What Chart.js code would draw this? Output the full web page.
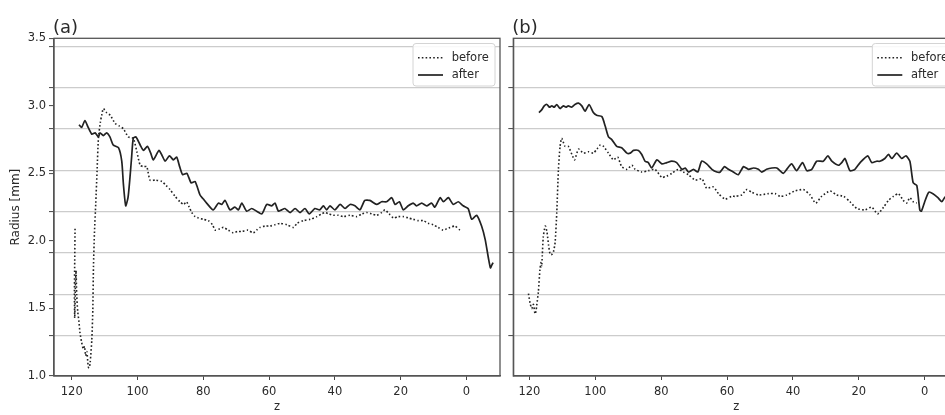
<!DOCTYPE html>
<html><head><meta charset="utf-8">
<script src="https://cdn.jsdelivr.net/npm/chart.js@4.4.1/dist/chart.umd.min.js"></script>
<style>
html,body{margin:0;padding:0;overflow:hidden;background:#fff;width:945px;height:415px;}
#ca{position:absolute;left:0;top:0;}
#cb{position:absolute;left:505px;top:0;}
</style></head><body>
<canvas id="ca" width="505" height="415"></canvas>
<canvas id="cb" width="460" height="415"></canvas>
<script>
// ---- tick labels / levels ----
const xTicks = [120, 100, 80, 60, 40, 20, 0];
const yTicks = [1.0, 1.5, 2.0, 2.5, 3.0, 3.5];
const gridLevels = [1.300, 1.606, 1.912, 2.218, 2.524, 2.830, 3.136, 3.442];
const seriesNames = ['before', 'after'];
const panelTitles = ['(a)', '(b)'];

// ---- panel (a) ----
const zA_before = [119.0,119.1,119.2,119.1,118.9,118.7,118.5,118.2,117.8,117.5,117.0,116.5,116.1,115.8,115.4,115.0,114.7,114.4,113.9,113.6,113.4,113.1,112.7,112.3,111.9,111.3,110.9,110.4,109.4,108.3,106.8,105.5,104.3,102.8,101.3,100.2,99.2,98.2,97.2,96.2,94.5,92.6,91.3,90.1,88.6,87.1,86.0,85.1,84.3,83.5,82.5,81.5,80.0,78.5,77.2,76.4,75.0,73.9,72.4,70.9,69.6,68.3,66.5,64.8,63.8,62.8,61.2,59.7,58.2,56.7,54.6,52.6,51.5,49.6,47.5,45.5,44.0,43.0,41.8,40.5,39.0,37.4,35.4,33.4,31.8,30.3,28.8,27.3,25.8,24.8,23.5,22.2,20.7,19.2,17.7,16.2,14.6,13.1,11.6,10.1,8.6,7.1,6.0,5.0,3.5,2.0];
const rA_before = [2.09,1.85,1.60,1.43,1.65,1.78,1.60,1.48,1.40,1.32,1.25,1.20,1.22,1.15,1.18,1.07,1.06,1.10,1.27,1.49,1.81,2.06,2.28,2.52,2.76,2.88,2.93,2.98,2.95,2.93,2.87,2.85,2.83,2.77,2.76,2.66,2.56,2.55,2.55,2.45,2.45,2.44,2.41,2.38,2.33,2.29,2.27,2.29,2.25,2.21,2.18,2.17,2.16,2.15,2.12,2.08,2.09,2.10,2.08,2.06,2.07,2.07,2.08,2.06,2.08,2.10,2.11,2.11,2.12,2.13,2.12,2.10,2.13,2.15,2.16,2.18,2.20,2.21,2.20,2.19,2.19,2.18,2.19,2.18,2.20,2.21,2.20,2.19,2.21,2.23,2.20,2.17,2.18,2.18,2.17,2.16,2.15,2.15,2.13,2.12,2.10,2.08,2.09,2.10,2.11,2.08];
const zA_after = [117.8,117.0,116.0,115.0,113.9,112.9,111.9,111.4,110.4,109.4,108.4,107.4,105.8,104.8,104.3,103.6,102.9,102.3,101.8,101.3,100.5,99.2,98.2,97.0,96.0,95.2,93.5,92.5,91.6,90.3,89.1,88.1,87.2,86.3,85.0,83.7,82.5,81.0,80.0,79.0,77.0,75.4,74.4,73.4,71.9,70.4,69.3,68.3,66.8,65.3,63.8,62.2,60.7,59.2,58.2,57.2,56.2,55.2,53.6,52.1,50.6,49.1,47.8,46.1,44.6,43.5,42.5,41.5,40.0,38.4,36.9,35.4,33.9,32.4,30.9,29.4,27.3,25.8,24.3,22.7,21.7,20.4,19.2,17.7,16.2,15.2,13.6,12.1,10.6,9.6,8.0,7.0,5.5,4.0,2.5,1.0,-0.5,-1.6,-3.1,-4.6,-5.7,-6.7,-7.3,-7.7,-8.1];
const rA_after = [2.86,2.84,2.89,2.84,2.79,2.80,2.77,2.80,2.78,2.80,2.77,2.71,2.69,2.59,2.42,2.26,2.32,2.47,2.62,2.76,2.77,2.71,2.67,2.70,2.65,2.60,2.67,2.63,2.59,2.63,2.60,2.62,2.55,2.49,2.50,2.43,2.44,2.34,2.31,2.28,2.23,2.28,2.27,2.30,2.23,2.25,2.23,2.28,2.22,2.24,2.22,2.20,2.27,2.26,2.28,2.22,2.23,2.24,2.21,2.24,2.21,2.24,2.20,2.24,2.23,2.26,2.23,2.26,2.23,2.27,2.24,2.27,2.26,2.23,2.30,2.30,2.27,2.29,2.29,2.32,2.27,2.29,2.23,2.26,2.28,2.26,2.28,2.26,2.28,2.25,2.32,2.29,2.32,2.27,2.29,2.26,2.24,2.16,2.19,2.11,2.01,1.87,1.80,1.82,1.84];

// ---- panel (b) ----
const zB_before = [120.3,119.8,119.3,118.8,118.3,118.0,117.8,117.3,116.8,116.5,116.3,116.1,115.8,115.2,114.7,114.2,113.7,113.2,112.7,112.2,111.7,111.2,110.7,110.2,109.2,108.2,107.1,106.3,105.1,103.6,102.1,100.6,99.5,98.5,97.5,96.0,94.5,93.2,92.0,90.4,88.9,87.9,85.9,83.9,81.9,79.8,78.3,76.8,74.8,73.3,71.7,69.7,67.6,66.2,64.2,62.6,60.6,58.6,57.6,55.6,54.0,52.5,50.5,47.4,45.4,43.9,41.9,39.4,36.8,34.8,33.1,31.3,28.7,26.7,24.6,22.7,20.6,18.1,16.1,14.3,12.5,11.0,9.5,8.0,6.5,5.5,4.5,3.5,2.4];
const rB_before = [1.61,1.54,1.50,1.53,1.46,1.48,1.52,1.62,1.79,1.84,1.81,1.89,2.03,2.11,2.07,1.97,1.90,1.90,1.92,1.99,2.21,2.53,2.70,2.76,2.70,2.70,2.64,2.60,2.68,2.65,2.66,2.65,2.68,2.71,2.70,2.65,2.60,2.62,2.55,2.53,2.56,2.53,2.51,2.52,2.53,2.47,2.48,2.50,2.53,2.51,2.49,2.45,2.46,2.39,2.40,2.35,2.31,2.33,2.33,2.34,2.38,2.36,2.34,2.35,2.35,2.33,2.34,2.37,2.38,2.34,2.28,2.33,2.37,2.34,2.33,2.29,2.24,2.23,2.25,2.20,2.25,2.30,2.33,2.35,2.30,2.28,2.32,2.29,2.28];
const zB_after = [117.1,116.3,115.5,114.7,113.9,113.2,112.5,111.7,110.7,109.7,108.9,108.2,107.2,106.2,105.1,104.1,103.1,101.9,100.6,99.6,98.0,97.0,96.0,95.0,93.5,92.0,90.4,89.4,88.4,86.9,85.9,84.9,83.9,82.9,81.3,79.8,78.3,76.8,75.3,73.7,72.7,71.7,70.2,68.9,67.7,66.2,64.6,63.1,62.1,60.8,59.6,58.1,56.6,55.0,53.5,52.0,50.5,49.5,48.0,46.4,44.9,42.9,41.9,40.4,38.9,37.1,35.8,34.3,32.8,30.8,29.4,28.2,26.2,25.2,24.2,22.7,21.2,19.6,17.3,16.1,14.6,13.6,12.1,11.0,10.0,8.5,7.0,5.7,4.5,3.5,2.4,1.5,1.0,0.0,-1.2,-2.5,-4.0,-5.2,-6.0,-7.0];
const rB_after = [2.95,2.97,3.00,3.01,2.99,3.00,2.99,3.01,2.98,3.00,2.99,3.00,2.99,3.01,3.02,3.00,2.96,3.01,2.95,2.93,2.92,2.85,2.77,2.75,2.70,2.69,2.65,2.65,2.67,2.67,2.64,2.59,2.58,2.54,2.60,2.57,2.58,2.59,2.58,2.53,2.54,2.51,2.53,2.51,2.59,2.57,2.53,2.51,2.51,2.55,2.53,2.51,2.49,2.55,2.53,2.54,2.53,2.51,2.53,2.54,2.54,2.50,2.53,2.57,2.52,2.58,2.52,2.53,2.59,2.59,2.63,2.59,2.56,2.58,2.61,2.52,2.53,2.58,2.63,2.58,2.59,2.59,2.61,2.64,2.61,2.65,2.61,2.63,2.59,2.43,2.41,2.23,2.22,2.29,2.36,2.35,2.32,2.29,2.32,2.34];

const FONT = '"DejaVu Sans", sans-serif';
const TXT = '#2a2a2a';

function near(list, v){ return list.some(t => Math.abs(t - v) < 1e-6); }

function yScale(main){
  return {
    type: 'linear', min: 1.0, max: 3.5, position: 'left',
    afterBuildTicks: ax => {
      const vals = (main ? yTicks.concat(gridLevels) : gridLevels.slice()).sort((a,b)=>a-b);
      ax.ticks = vals.map(v => ({value: v}));
    },
    afterFit: ax => { ax.width = main ? 54 : 8.3; },
    ticks: { autoSkip: false, padding: 3, color: TXT, font: {family: FONT, size: 11.5},
      callback: v => (main && near(yTicks, v)) ? Number(v).toFixed(1) : '' },
    grid: { drawTicks: true, tickLength: 5, tickColor: '#444', tickWidth: 1,
      color: c => (c.tick && near(gridLevels, c.tick.value)) ? '#cccccc' : 'rgba(0,0,0,0)', lineWidth: 1.2 },
    border: { display: true, color: '#555', width: 1.3 },
    title: main ? { display: true, text: 'Radius [mm]', color: TXT, font: {family: FONT, size: 12}, padding: {top: 9, bottom: 0} } : { display: false }
  };
}
function xScale(min, max){
  return {
    type: 'linear', reverse: true, min: min, max: max, position: 'bottom',
    afterBuildTicks: ax => { ax.ticks = xTicks.map(v => ({value: v})); },
    afterFit: ax => { ax.height = 39; },
    ticks: { autoSkip: false, maxRotation: 0, padding: 5, color: TXT, font: {family: FONT, size: 11.5}, callback: v => String(v) },
    grid: { drawOnChartArea: false, drawTicks: true, tickLength: 4, tickColor: '#444' },
    border: { display: true, color: '#555', width: 1.3 },
    title: { display: true, text: 'z', color: TXT, font: {family: FONT, size: 11.5}, padding: {top: 0, bottom: 1.5} }
  };
}
function ds(label, zs, rs, dotted){
  return {
    label: label,
    data: zs.map((z, i) => ({x: z, y: rs[i]})),
    borderColor: '#222', borderWidth: dotted ? 1.6 : 1.7,
    borderDash: dotted ? [1.6, 2.2] : [],
    borderCapStyle: 'butt', borderJoinStyle: 'round',
    pointRadius: 0, tension: 0.2, fill: false
  };
}

const panelDeco = {
  id: 'panelDeco',
  afterDatasetsDraw(chart, args, opts){
    const ctx = chart.ctx, a = chart.chartArea;
    ctx.save();
    ctx.setLineDash([]);
    ctx.strokeStyle = '#555'; ctx.lineWidth = 1.3;
    ctx.strokeRect(a.left, a.top, a.right - a.left, a.bottom - a.top);
    // legend
    const bw = 82, bh = 42.5, bx = a.right - 5 - bw, by = a.top + 5.2, r = 3;
    ctx.beginPath();
    ctx.moveTo(bx + r, by); ctx.lineTo(bx + bw - r, by); ctx.arcTo(bx + bw, by, bx + bw, by + r, r);
    ctx.lineTo(bx + bw, by + bh - r); ctx.arcTo(bx + bw, by + bh, bx + bw - r, by + bh, r);
    ctx.lineTo(bx + r, by + bh); ctx.arcTo(bx, by + bh, bx, by + bh - r, r);
    ctx.lineTo(bx, by + r); ctx.arcTo(bx, by, bx + r, by, r); ctx.closePath();
    ctx.fillStyle = 'rgba(255,255,255,0.85)'; ctx.fill();
    ctx.strokeStyle = '#d4d4d4'; ctx.lineWidth = 1; ctx.stroke();
    chart.data.datasets.forEach((d, i) => {
      const cy = by + 14.2 + i * 17.3;
      ctx.beginPath();
      ctx.setLineDash(d.borderDash || []);
      ctx.lineWidth = d.borderWidth; ctx.strokeStyle = d.borderColor;
      ctx.moveTo(bx + 5, cy); ctx.lineTo(bx + 30, cy); ctx.stroke();
      ctx.setLineDash([]);
      ctx.fillStyle = TXT; ctx.font = '11.5px ' + FONT;
      ctx.textBaseline = 'middle'; ctx.textAlign = 'left';
      ctx.fillText(d.label, bx + 38.7, cy);
    });
    // panel title
    ctx.fillStyle = TXT; ctx.font = '18px ' + FONT;
    ctx.textBaseline = 'alphabetic'; ctx.textAlign = 'left';
    ctx.fillText(opts.title, a.left - 1, 33);
    ctx.restore();
  }
};

function makePanel(id, title, zb, rb, za, ra, xmin, xmax, main, padRight){
  return new Chart(document.getElementById(id), {
    type: 'line',
    data: { datasets: [ ds(seriesNames[0], zb, rb, true), ds(seriesNames[1], za, ra, false) ] },
    options: {
      responsive: false, animation: false, events: [],
      layout: { padding: { top: 38.3, right: padRight, left: 0, bottom: 0 } },
      scales: { x: xScale(xmin, xmax), y: yScale(main) },
      plugins: { legend: { display: false }, tooltip: { enabled: false }, title: { display: false },
        panelDeco: { title: title } }
    },
    plugins: [panelDeco]
  });
}

makePanel('ca', panelTitles[0], zA_before, rA_before, zA_after, rA_after, -10.2, 125.4, true, 5);
makePanel('cb', panelTitles[1], zB_before, rB_before, zB_after, rB_after, -10.5, 124.9, false, 5.7);
</script>
</body></html>
